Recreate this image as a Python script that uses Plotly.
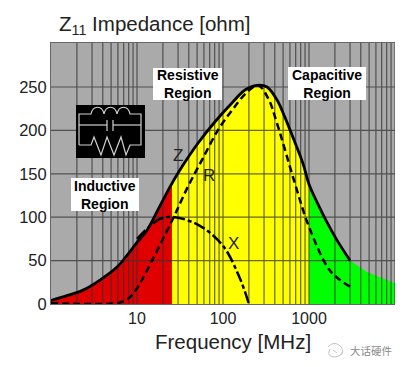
import plotly.graph_objects as go

z_freq = [1, 1.53, 2.36, 3.71, 5.86, 7.65, 10, 13.1, 18.5, 24.2, 33.3, 51.4, 80.8, 127, 180, 248, 325, 425, 525, 650, 850, 1000, 1270, 1620, 2130, 3000]
z_vals = [4, 9.6, 16, 27.6, 42.6, 56, 71, 85, 113, 135, 158, 185.5, 210, 231.6, 246.5, 252, 250, 235, 215, 192, 162, 138, 115, 94, 73, 50]
r_freq = [1, 5.9, 7.2, 8.3, 10.3, 13.1, 25.5, 39, 57, 87, 127, 190, 255, 335, 425, 690, 1000, 1770, 3000]
r_vals = [1, 1, 4, 8, 20, 39, 96, 135, 166, 200, 223, 244, 252, 237, 208, 138, 89, 38, 20]
x_freq = [10, 18.5, 27.5, 54, 100, 158, 200]
x_vals = [75, 98, 100, 90, 67, 29, 0]
red_freq = [1, 1.53, 2.36, 3.71, 5.86, 7.65, 10, 13.1, 18.5, 25.5]
red_vals = [4, 9.6, 16, 27.6, 42.6, 56, 71, 85, 113, 138]
yellow_freq = [25.5, 33.3, 51.4, 80.8, 127, 180, 248, 325, 425, 525, 650, 850, 1000]
yellow_vals = [138, 158, 185.5, 210, 231.6, 246.5, 252, 250, 235, 215, 192, 162, 138]
green_freq = [1000, 1270, 1620, 2130, 3000, 4700, 10000]
green_vals = [138, 115, 94, 73, 50, 37, 24]
grid_freq = [m * d for d in (1, 10, 100, 1000) for m in range(2, 11)]
grid_vals = [50, 100, 150, 200, 250]
y_ticks = [0, 50, 100, 150, 200, 250]
x_ticks = [10, 100, 1000]
GRID = "#333333"
FRAME_W, FRAME_H = 395, 359   # the page adds an 8 px body margin
L, R, T, B = 51, 395, 43, 304  # plot box in page pixels


def px(x):
    return (x - L) / (R - L)


def py(y):
    return (B - y) / (B - T)


def spath(points):
    out = []
    for cmd, *c in points:
        vals = [f"{px(v) if i % 2 == 0 else py(v):.4f}" for i, v in enumerate(c)]
        out.append(cmd + " " + " ".join(vals))
    return " ".join(out)


fig = go.Figure()
for fx, fy, col in [(red_freq, red_vals, "#e00000"), (yellow_freq, yellow_vals, "#ffff00"), (green_freq, green_vals, "#00ff00")]:
    fig.add_trace(go.Scatter(x=[fx[0]] + fx + [fx[-1]], y=[0] + fy + [0], mode="lines", fill="toself",
                             fillcolor=col, line=dict(width=0), hoverinfo="skip", showlegend=False))

gx, gy = [], []
for f in grid_freq:
    gx += [f, f, None]
    gy += [0, 300.7, None]
for v in grid_vals:
    gx += [1, 10000, None]
    gy += [v, v, None]
fig.add_trace(go.Scatter(x=gx, y=gy, mode="lines", line=dict(color=GRID, width=1.2), opacity=0.75,
                         hoverinfo="skip", showlegend=False))

fig.add_trace(go.Scatter(x=x_freq, y=x_vals, mode="lines", line=dict(color="black", width=2.5, dash="12px,3px,4px,3px", shape="spline"), showlegend=False))
fig.add_trace(go.Scatter(x=r_freq, y=r_vals, mode="lines", line=dict(color="black", width=2.5, dash="7px,4px", shape="spline"), showlegend=False))
fig.add_trace(go.Scatter(x=z_freq, y=z_vals, mode="lines", line=dict(color="black", width=2.8, shape="spline"), showlegend=False))

FONT = "Liberation Sans, Arial, sans-serif"
C = dict(xanchor="center", yanchor="middle", xref="paper", yref="paper", showarrow=False)
ann = []
shapes = []
for text, x0, x1, y0, y1 in [("Resistive<br>Region", 153, 222, 68, 100), ("Capacitive<br>Region", 288, 366, 67, 100), ("Inductive<br>Region", 71, 139, 178, 211)]:
    shapes.append(dict(type="rect", xref="paper", yref="paper", x0=px(x0), x1=px(x1), y0=py(y0), y1=py(y1), fillcolor="white", line_width=0))
    ann.append(dict(text=f"<b>{text}</b>", x=px((x0 + x1) / 2), y=py((y0 + y1) / 2), align="center",
                    font=dict(family=FONT, size=14, color="black"), **C))
for text, x, y in [("Z", 178, 155), ("R", 209, 175), ("X", 234, 243)]:
    ann.append(dict(text=text, x=px(x), y=py(y), font=dict(family=FONT, size=17, color="#222222"), **C))
ann.append(dict(text="Z<sub>11</sub> Impedance [ohm]", x=px(155), y=py(25), font=dict(family=FONT, size=20.5, color="#222222"), **C))
ann.append(dict(text="Frequency [MHz]", x=px(233), y=py(341), font=dict(family=FONT, size=20.5, color="#222222"), **C))
ann.append(dict(text="大话硬件", x=px(371), y=py(350), font=dict(family="Noto Sans CJK SC", size=10.5, color="#8a8a8a"), **C))

ICON = "#d0d0d0"
shapes.append(dict(type="rect", xref="paper", yref="paper", x0=px(76), x1=px(145), y0=py(105), y1=py(158), fillcolor="black", line_width=0))
icon_paths = [
    [("M", 79, 145), ("L", 79, 114), ("L", 91, 114), ("C", 93, 105, 102, 105, 104, 114), ("C", 106, 105, 115, 105, 117, 114), ("C", 119, 105, 128, 105, 130, 114), ("L", 141, 114), ("L", 141, 145), ("L", 130, 145),
     ("L", 126, 155), ("L", 121, 137), ("L", 114, 155), ("L", 107, 137), ("L", 101, 155), ("L", 94, 137), ("L", 91, 145), ("L", 79, 145)],
    [("M", 79, 125), ("L", 107, 125)],
    [("M", 113, 125), ("L", 141, 125)],
    [("M", 107, 120), ("L", 107, 131)],
    [("M", 113, 120), ("L", 113, 131)],
]
for p in icon_paths:
    shapes.append(dict(type="path", xref="paper", yref="paper", path=spath(p), line=dict(color=ICON, width=1.2)))
mark_paths = [
    [("M", 328, 347), ("Q", 333, 341, 339, 345), ("Q", 345, 349, 341, 355)],
    [("M", 330, 349), ("Q", 326, 356, 334, 357), ("Q", 340, 357, 343, 352)],
    [("M", 333, 350), ("L", 337, 353)],
]
for p in mark_paths:
    shapes.append(dict(type="path", xref="paper", yref="paper", path=spath(p), line=dict(color="#c4c4c4", width=1)))

fig.update_layout(
    width=FRAME_W, height=FRAME_H, autosize=False,
    margin=dict(l=L - 8, r=FRAME_W + 8 - R, t=T - 8, b=FRAME_H + 8 - B, pad=0),
    paper_bgcolor="white", plot_bgcolor="#aaaaaa",
    font=dict(family=FONT, size=16, color="#222222"),
    shapes=shapes, annotations=ann, showlegend=False,
    xaxis=dict(type="log", range=[0, 4], tickvals=x_ticks, ticktext=[str(t) for t in x_ticks], showgrid=False, zeroline=False,
               ticks="", tickfont=dict(size=16), showline=True, mirror=True, linecolor="#666666", linewidth=1),
    yaxis=dict(range=[0, 300.7], tickvals=y_ticks, ticktext=[str(t) for t in y_ticks], showgrid=False, zeroline=False,
               ticks="", tickfont=dict(size=16.5), showline=True, mirror=True, linecolor="#666666", linewidth=1),
)
fig.write_html("out.html", config=dict(displayModeBar=False))
